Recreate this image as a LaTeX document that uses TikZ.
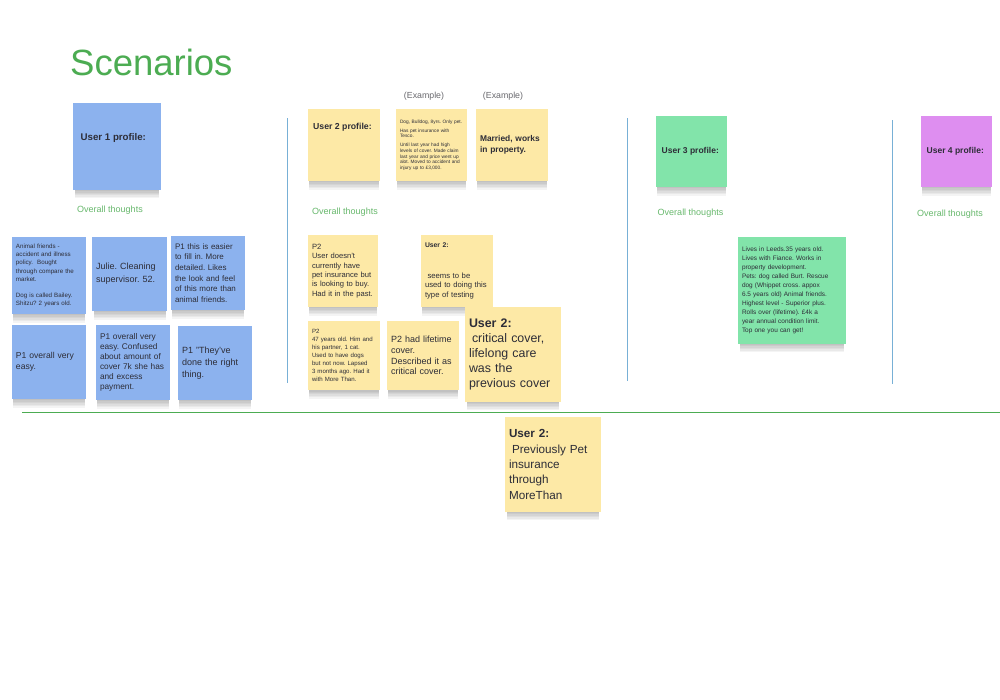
\documentclass[tikz,border=0pt]{standalone}
\usepackage{fontspec}
\setmainfont{Liberation Sans}
\usetikzlibrary{shadows}
\definecolor{ink}{RGB}{45,45,55}
\definecolor{noteB}{RGB}{140,178,238}
\definecolor{noteY}{RGB}{253,233,166}
\definecolor{noteG}{RGB}{130,228,170}
\definecolor{noteP}{RGB}{222,142,240}
\definecolor{headG}{RGB}{76,172,82}
\definecolor{sepB}{RGB}{120,176,214}
\definecolor{exgray}{RGB}{105,105,110}
\newcommand{\setfs}[2]{\fontsize{#1}{#2}\selectfont}
\frenchspacing
\tikzset{
  soft/.style={general shadow={shadow xshift=0pt,shadow yshift=#1,shadow scale=.96,
    fill=black,opacity=.045}},
  note/.style={rectangle,inner xsep=4pt,inner ysep=3pt,align=left,text=ink,
    soft=-1.5pt,soft=-3pt,soft=-4.5pt,soft=-6pt,soft=-7.5pt,soft=-9pt,soft=-10.5pt},
  bnote/.style={note,fill=noteB},
  ynote/.style={note,fill=noteY},
  gnote/.style={note,fill=noteG},
  pnote/.style={note,fill=noteP},
  wh/.style n args={3}{minimum width=#1pt,minimum height=#2pt,text width=#3pt},
  plbl/.style={anchor=west,inner sep=0pt,text=ink},
  ovr/.style={text=headG!85,font=\setfs{9}{11}},
  exlbl/.style={text=exgray,font=\setfs{8.8}{10}},
  sep/.style={draw=sepB,line width=1pt},
}

\begin{document}
\begin{tikzpicture}[x=1pt,y=-1pt]
\useasboundingbox[fill=white] (0,0) rectangle (1000,699);
% title
\node[anchor=base west,inner sep=0pt,text=headG,font=\setfs{36.5}{40}] (ttl) at (70,75) {Scenarios};

% separators
\draw[sep] (287,118) -- (287,383);
\draw[sep] (627,118) -- (627,381);
\draw[sep] (892,120) -- (892,384);
\draw[draw=headG,line width=0.8pt] (22,412) -- (1000,412);

% user 1
\node[bnote,wh={88}{87}{80}] (u1p) at (117,146.5) {};
\node[plbl,font=\bfseries\setfs{9.7}{11}] (u1t) at (80.5,138) {User 1 profile:};
\node[ovr] (u1o) at (110,210) {Overall thoughts};
\node[bnote,wh={74}{77}{66},font=\setfs{6.2}{8.2}] (p1a) at (49,275.5)
  {Animal friends -\\accident and illness\\policy.\ \ Bought\\through compare the\\market.\\[8pt]Dog is called Bailey.\\Shitzu? 2 years old.};
\node[bnote,wh={75}{74}{67},font=\setfs{9}{13.3}] (p1b) at (129.5,274)
  {Julie. Cleaning\\supervisor. 52.};
\node[bnote,wh={74}{74}{66},font=\setfs{8}{10.7}] (p1c) at (208,273)
  {P1 this is easier\\to fill in. More\\detailed. Likes\\the look and feel\\of this more than\\animal friends.};
\node[bnote,wh={74}{74}{66},font=\setfs{8.6}{11}] (p1d) at (49,362)
  {P1 overall very\\easy.};
\node[bnote,wh={74}{75}{66},font=\setfs{8.3}{10}] (p1e) at (133,362.5)
  {P1 overall very\\easy. Confused\\about amount of\\cover 7k she has\\and excess\\payment.};
\node[bnote,wh={74}{74}{66},font=\setfs{9}{11.7}] (p1f) at (215,363)
  {P1 "They've\\done the right\\thing.};

% user 2
\node[ynote,wh={72}{72}{64}] (u2p) at (344,145) {};
\node[plbl,font=\bfseries\setfs{8.7}{10}] (u2t) at (313,127) {User 2 profile:};
\node[exlbl] (ex1l) at (424,96) {(Example)};
\node[exlbl] (ex2l) at (503,96) {(Example)};
\node[ynote,wh={71}{72}{63},font=\setfs{4.8}{5.6}] (ex1) at (431.5,145)
  {Dog, Bulldog, 8yrs. Only pet.\\[3.5pt]Has pet insurance with\\Tesco.\\[3.5pt]Until last year had high\\levels of cover. Made claim\\last year and price went up\\alot. Moved to accident and\\injury up to £3,000.};
\node[ynote,wh={72}{72}{64},font=\bfseries\setfs{8.4}{11}] (ex2) at (512,145)
  {Married, works\\in property.};
\node[ovr] (u2o) at (345,212) {Overall thoughts};
\node[ynote,wh={70}{72}{62},font=\setfs{7.6}{9.3}] (q1) at (343,271)
  {P2\\User doesn't\\currently have\\pet insurance but\\is looking to buy.\\Had it in the past.};
\node[ynote,wh={72}{72}{64},font=\setfs{7.7}{9.5}] (q2) at (457,271)
  {{\bfseries\setfs{6.8}{8}User 2:}\\[21pt]\hspace{2.5pt}seems to be\\used to doing this\\type of testing};
\node[ynote,wh={72}{69}{64},font=\setfs{6.1}{8.1}] (q3) at (344,355.5)
  {P2\\47 years old. Him and\\his partner, 1 cat.\\Used to have dogs\\but not now. Lapsed\\3 months ago. Had it\\with More Than.};
\node[ynote,wh={72}{69}{64},font=\setfs{9}{10.6}] (q4) at (423,355.5)
  {P2 had lifetime\\cover.\\Described it as\\critical cover.};
\node[ynote,wh={96}{95}{88},font=\setfs{12.4}{14.8}] (q5) at (513,354.5)
  {\textbf{User 2:}\\\hspace{3pt}critical cover,\\lifelong care\\was the\\previous cover};
\node[ynote,wh={96}{95}{88},font=\setfs{11.7}{15.3}] (q6) at (553,464.5)
  {\textbf{User 2:}\\\hspace{3pt}Previously Pet\\insurance\\through\\MoreThan};

% user 3
\node[gnote,wh={71}{71}{63}] (u3p) at (691.5,151.5) {};
\node[plbl,font=\bfseries\setfs{8.5}{10}] (u3t) at (661.5,151) {User 3 profile:};
\node[ovr] (u3o) at (690.5,213) {Overall thoughts};
\node[gnote,wh={108}{107}{100},font=\setfs{6.45}{9}] (r1) at (792,290.5)
  {Lives in Leeds.35 years old.\\Lives with Fiance. Works in\\property development.\\Pets: dog called Burt. Rescue\\dog (Whippet cross. appox\\6.5 years old) Animal friends.\\Highest level - Superior plus.\\Rolls over (lifetime). £4k a\\year annual condition limit.\\Top one you can get!};

% user 4
\node[pnote,wh={71}{71}{63}] (u4p) at (956.5,151.5) {};
\node[plbl,font=\bfseries\setfs{8.5}{10}] (u4t) at (926.5,151) {User 4 profile:};
\node[ovr] (u4o) at (950,214) {Overall thoughts};
\end{tikzpicture}
\end{document}
